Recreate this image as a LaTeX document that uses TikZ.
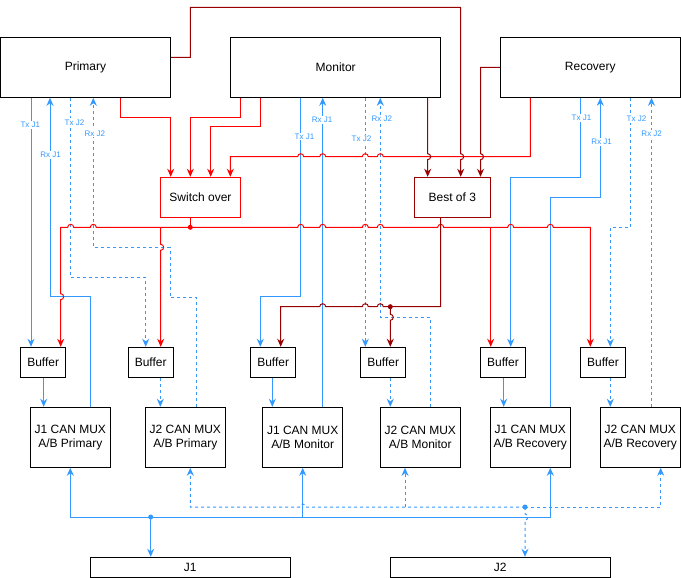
\documentclass[tikz,border=0pt]{standalone}
\usepackage{fontspec}
\setmainfont{Liberation Sans}
\usetikzlibrary{arrows.meta}
\definecolor{cblue}{HTML}{3399FF}
\definecolor{cred}{HTML}{FF0000}
\definecolor{cdred}{HTML}{990000}
% hops
\newcommand\hopr[2]{-- ({#1-3},#2) arc[start angle=180,end angle=0,radius=3pt]}
\newcommand\hopl[2]{-- ({#1+3},#2) arc[start angle=0,end angle=180,radius=3pt]}
\newcommand\hopd[2]{-- (#1,{#2-3}) arc[start angle=90,end angle=-90,radius=3pt]}
\begin{document}
\begin{tikzpicture}[x=1pt,y=-1pt,
  box/.style={draw=black, line width=1pt, fill=white, font=\fontsize{12}{14}\selectfont, text=black, inner sep=0pt, align=center},
  bl/.style={draw=cblue, line width=1pt},
  bld/.style={bl, dash pattern=on 3pt off 3pt},
  rl/.style={draw=cred, line width=1pt},
  drl/.style={draw=cdred, line width=1pt},
  arr/.style={-{Stealth[length=8pt,width=7pt]}},
  lbl/.style={fill=white, text=cblue, font=\fontsize{8}{9}\selectfont, inner sep=1pt},
  dot/.style={radius=2.5pt},
]
\useasboundingbox (0,0) rectangle (681,578);
\fill[white] (0,0) rectangle (681,578);

% main boxes
\node[box, minimum width=170, minimum height=60] (prim) at (85.5,67.3) {Primary};
\node[box, minimum width=210, minimum height=60] (mon) at (335.7,67.3) {Monitor};
\node[box, minimum width=180, minimum height=60] (rec) at (590.3,67.3) {Recovery};
\node[box, draw=cred, minimum width=80, minimum height=40] (sw) at (200.5,197.3) {Switch over};
\node[box, draw=cdred, minimum width=76, minimum height=40] (bo3) at (452.3,197.3) {Best of 3};

% buffers
\foreach \n/\x in {buf1/43.2, buf2/150.7, buf3/273.2, buf4/383.2, buf5/503.0, buf6/603.0}
  \node[box, minimum width=45, minimum height=30] (\n) at (\x,362.3) {Buffer};

% muxes
\node[box, minimum width=80, minimum height=60] (mux1) at (70.3,437.3) {J1 CAN MUX\\A/B Primary};
\node[box, minimum width=80, minimum height=60] (mux2) at (185.3,437.3) {J2 CAN MUX\\A/B Primary};
\node[box, minimum width=80, minimum height=60] (mux3) at (302.7,437.3) {J1 CAN MUX\\A/B Monitor};
\node[box, minimum width=80, minimum height=60] (mux4) at (420.3,437.3) {J2 CAN MUX\\A/B Monitor};
\node[box, minimum width=80, minimum height=60] (mux5) at (530.3,437.3) {J1 CAN MUX\\A/B Recovery};
\node[box, minimum width=80, minimum height=60] (mux6) at (640.3,437.3) {J2 CAN MUX\\A/B Recovery};

% bus boxes
\node[box, minimum width=200, minimum height=20] (j1) at (190.3,567.3) {J1};
\node[box, minimum width=220, minimum height=20] (j2) at (500.3,567.3) {J2};

\coordinate (swdot) at (190.3,227.3);
\coordinate (bodot) at (390.3,306.7);
\coordinate (j1dot) at (150.7,517);
\coordinate (j2dot) at (525,507);

% ---------- Primary blue ----------
\draw[bl,arr] (prim.south -| 31,0) -- (buf1.north -| 31,0);
\draw[bl,arr] (mux1.north -| 90.7,0) -- (90.7,296.7) -- (50,296.7) -- (prim.south -| 50,0);
\draw[bld,arr] (prim.south -| 70.7,0) -- (70.7,277.3) -- (145.7,277.3) -- (buf2.north -| 145.7,0);
\draw[bld,arr] (mux2.north -| 196.7,0) -- (196.7,297.3) -- (170,297.3) -- (170,247.3) -- (93.3,247.3) -- (prim.south -| 93.3,0);
\draw[bl,arr] (buf1.south -| 43.7,0) -- (mux1.north -| 43.7,0);
\draw[bld,arr] (buf2.south -| 160.3,0) -- (mux2.north -| 160.3,0);

% ---------- Monitor blue ----------
\draw[bl,arr] (mon.south -| 300.7,0) -- (300.7,296.7) -- (260.3,296.7) -- (buf3.north -| 260.3,0);
\draw[bl,arr] (mux3.north -| 322.7,0) -- (mon.south -| 322.7,0);
\draw[bld,arr] (mon.south -| 365.3,0) -- (buf4.north -| 365.3,0);
\draw[bld,arr] (mux4.north -| 430.3,0) -- (430.3,317.3) -- (380.3,317.3) -- (mon.south -| 380.3,0);
\draw[bl,arr] (buf3.south -| 272.3,0) -- (mux3.north -| 272.3,0);
\draw[bld,arr] (buf4.south -| 390.3,0) -- (mux4.north -| 390.3,0);

% ---------- Recovery blue ----------
\draw[bl,arr] (rec.south -| 580.7,0) -- (580.7,177.3) -- (510.7,177.3) -- (buf5.north -| 510.7,0);
\draw[bl,arr] (mux5.north -| 550.3,0) -- (550.3,197.3) -- (600.3,197.3) -- (rec.south -| 600.3,0);
\draw[bld,arr] (rec.south -| 630.3,0) -- (630.3,227.3) -- (610.3,227.3) -- (buf6.north -| 610.3,0);
\draw[bld,arr] (mux6.north -| 651.5,0) -- (rec.south -| 651.5,0);
\draw[bl,arr] (buf5.south -| 503.7,0) -- (mux5.north -| 503.7,0);
\draw[bld,arr] (buf6.south -| 610.3,0) -- (mux6.north -| 610.3,0);

% ---------- red: to switch over ----------
\draw[rl,arr] (prim.south -| 120.3,0) -- (120.3,117.3) -- (170.7,117.3) -- (sw.north -| 170.7,0);
\draw[rl,arr] (mon.south -| 240.7,0) -- (240.7,117.3) -- (190.3,117.3) -- (sw.north -| 190.3,0);
\draw[rl,arr] (mon.south -| 260.7,0) -- (260.7,126.7) -- (210.7,126.7) -- (sw.north -| 210.7,0);
\draw[rl,arr] (rec.south -| 530.3,0) -- (530.3,156.7) \hopl{380.3}{156.7} \hopl{365.3}{156.7} \hopl{322.7}{156.7} \hopl{300.7}{156.7} -- (230.3,156.7) -- (sw.north -| 230.3,0);

% ---------- red: from switch over ----------
\draw[rl] (sw.south -| 190.3,0) -- (swdot);
\draw[rl,arr] (swdot) \hopl{93.3}{227.3} \hopl{70.7}{227.3} -- (60.7,227.3) \hopd{60.7}{296.7} -- (buf1.north -| 60.7,0);
\draw[rl,arr] (160.7,227.3) \hopd{160.7}{247.3} -- (buf2.north -| 160.7,0);
\draw[rl,arr] (swdot) \hopr{300.7}{227.3} \hopr{322.7}{227.3} \hopr{365.3}{227.3} \hopr{380.3}{227.3} \hopr{440.7}{227.3} \hopr{510.7}{227.3} \hopr{550.3}{227.3} -- (590.3,227.3) -- (buf6.north -| 590.3,0);
\draw[rl,arr] (490.7,227.3) -- (buf5.north -| 490.7,0);
\fill[cred] (swdot) circle[dot];

% ---------- dark red: best of 3 ----------
\draw[drl,arr] (prim.east |- 0,57.3) -- (190.3,57.3) -- (190.3,7.3) -- (460.7,7.3) \hopd{460.7}{156.7} -- (bo3.north -| 460.7,0);
\draw[drl,arr] (mon.south -| 427.7,0) \hopd{427.7}{156.7} -- (bo3.north -| 427.7,0);
\draw[drl,arr] (rec.west) -- (480.5,67.3) \hopd{480.5}{156.7} -- (bo3.north -| 480.5,0);
\draw[drl,arr] (bo3.south -| 440.7,0) -- (440.7,306.7) \hopl{380.3}{306.7} \hopl{365.3}{306.7} \hopl{322.7}{306.7} -- (280.7,306.7) -- (buf3.north -| 280.7,0);
\draw[drl,arr] (bodot) \hopd{390.3}{317.3} -- (buf4.north -| 390.3,0);
\fill[cdred] (bodot) circle[dot];

% ---------- J1 bus ----------
\draw[bl,arr] (j1dot) -- (70.3,517) -- (mux1.south -| 70.3,0);
\draw[bl,arr] (j1dot) -- (550.3,517) -- (mux5.south -| 550.3,0);
\draw[bl,arr] (302.7,517) -- (mux3.south -| 302.7,0);
\draw[bl,arr] (j1dot) -- (j1dot |- j1.north);
\fill[cblue] (j1dot) circle[dot];

% ---------- J2 bus ----------
\draw[bld,arr] (j2dot) \hopl{302.7}{507} -- (190.3,507) -- (mux2.south -| 190.3,0);
\draw[bld,arr] (405,507) -- (mux4.south -| 405,0);
\draw[bld,arr] (j2dot) -- (660.7,507) -- (mux6.south -| 660.7,0);
\draw[bld,arr] (j2dot) \hopd{525}{517} -- (j2dot |- j2.north);
\fill[cblue] (j2dot) circle[dot];

% ---------- labels ----------
\node[lbl] (lp1) at (30.3,125) {Tx J1};
\node[lbl] (lp2) at (50.5,155) {Rx J1};
\node[lbl] (lp3) at (74.5,122.3) {Tx J2};
\node[lbl] (lp4) at (94.8,133.3) {Rx J2};
\node[lbl] (lm1) at (304.5,136.7) {Tx J1};
\node[lbl] (lm2) at (322.0,120) {Rx J1};
\node[lbl] (lm3) at (361.5,139) {Tx J2};
\node[lbl] (lm4) at (381.8,119) {Rx J2};
\node[lbl] (lr1) at (581.5,118) {Tx J1};
\node[lbl] (lr2) at (601.7,142) {Rx J1};
\node[lbl] (lr3) at (636.5,119) {Tx J2};
\node[lbl] (lr4) at (651.7,134) {Rx J2};
\end{tikzpicture}
\end{document}
